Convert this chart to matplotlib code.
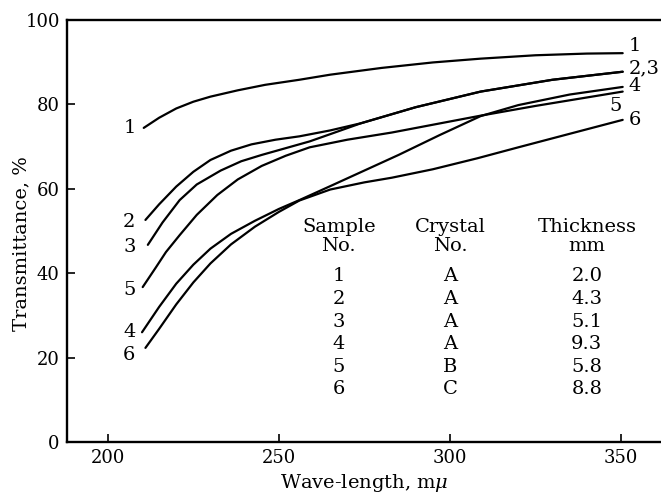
import matplotlib
matplotlib.use("Agg")
import matplotlib.pyplot as plt

# curves (wave-length in m-mu, transmittance in %)
x1 = [210.5, 215, 220, 225, 230, 238, 246, 256, 265, 280, 295, 309, 325, 340, 350.5]
y1 = [74.4, 76.8, 79.0, 80.6, 81.8, 83.3, 84.6, 85.8, 87.0, 88.6, 89.9, 90.8, 91.6, 92.0, 92.1]

x2 = [211, 215, 220, 225, 230, 236, 242, 249, 256, 265, 274, 290, 309, 330, 350.5]
y2 = [52.6, 56.3, 60.5, 64.0, 66.8, 69.0, 70.5, 71.6, 72.4, 73.8, 75.5, 79.3, 83.0, 85.8, 87.7]

x3 = [211.7, 216, 221, 226, 233, 239, 245, 252, 259, 266, 274, 290, 309, 330, 350.5]
y3 = [46.7, 52.0, 57.3, 61.0, 64.3, 66.5, 68.0, 69.6, 71.2, 73.2, 75.5, 79.3, 83.0, 85.8, 87.7]

x4 = [210, 215, 220, 225, 230, 236, 243, 250, 256, 265, 275, 285, 297, 309, 320, 335, 350.5]
y4 = [26.0, 32.0, 37.5, 42.0, 45.8, 49.3, 52.4, 55.2, 57.3, 60.6, 64.3, 68.0, 72.7, 77.2, 79.8, 82.3, 84.1]

x5 = [210.2, 214, 217, 221, 226, 232, 238, 245, 252, 259, 270, 283, 296, 309, 325, 340, 350.5]
y5 = [36.7, 41.3, 45.0, 49.0, 53.8, 58.5, 62.2, 65.4, 67.8, 69.8, 71.6, 73.3, 75.3, 77.3, 79.6, 81.6, 83.0]

x6 = [211, 215, 220, 225, 230, 236, 243, 250, 256, 265, 275, 283, 295, 308, 320, 335, 350.5]
y6 = [22.3, 26.8, 32.6, 37.8, 42.3, 46.8, 51.0, 54.5, 57.2, 59.8, 61.5, 62.6, 64.6, 67.2, 69.8, 73.0, 76.3]

# curve number labels
left_labels = ["1", "2", "3", "5", "4", "6"]
left_y = [74.4, 52.1, 46.2, 36.0, 26.1, 20.6]
right_labels = ["1", "2,3", "4", "5", "6"]
right_x = [352.3, 352.3, 352.3, 346.5, 352.3]
right_y = [93.7, 88.5, 84.4, 79.5, 76.3]

# table
headers = [("Sample", "No."), ("Crystal", "No."), ("Thickness", "mm")]
sample_no = ["1", "2", "3", "4", "5", "6"]
crystal_no = ["A", "A", "A", "A", "B", "C"]
thickness = ["2.0", "4.3", "5.1", "9.3", "5.8", "8.8"]
row_y = [39.3, 33.9, 28.5, 23.1, 17.8, 12.6]

plt.rcParams['font.family'] = ['DejaVu Serif']
plt.rcParams['mathtext.fontset'] = 'dejavuserif'

fig = plt.figure(figsize=(6.61, 4.95), dpi=100)
ax = fig.add_axes([0.101, 0.107, 0.899, 0.853])

for xs, ys in [(x1, y1), (x2, y2), (x3, y3), (x4, y4), (x5, y5), (x6, y6)]:
    ax.plot(xs, ys, color="black", lw=1.6, solid_capstyle="round")

fs = 14
for lab, yy in zip(left_labels, left_y):
    ax.text(206.3, yy, lab, fontsize=fs, ha="center", va="center")
for lab, xx, yy in zip(right_labels, right_x, right_y):
    ax.text(xx, yy, lab, fontsize=fs, ha="left", va="center")

col_x = [267.5, 300, 340]
for cx, (h1, h2) in zip(col_x, headers):
    ax.text(cx, 50.9, h1, fontsize=fs, ha="center", va="center")
    ax.text(cx, 46.4, h2, fontsize=fs, ha="center", va="center")
for s, c, t, yy in zip(sample_no, crystal_no, thickness, row_y):
    ax.text(col_x[0], yy, s, fontsize=fs, ha="center", va="center")
    ax.text(col_x[1], yy, c, fontsize=fs, ha="center", va="center")
    ax.text(col_x[2], yy, t, fontsize=fs, ha="center", va="center")

ax.set_xlim(188, 361.7)
ax.set_ylim(0, 100)
ax.set_xticks([200, 250, 300, 350])
ax.set_yticks([0, 20, 40, 60, 80, 100])
ax.tick_params(direction="in", length=6, width=1.2, labelsize=13, pad=5)
ax.spines["right"].set_visible(False)
for s in ["left", "bottom", "top"]:
    ax.spines[s].set_linewidth(1.7)

ax.set_xlabel("Wave-length, m$\\mu$", fontsize=fs)
ax.xaxis.set_label_coords(0.5, -0.07)
ax.set_ylabel("Transmittance, %", fontsize=fs)
ax.yaxis.set_label_coords(-0.062, 0.47)

fig.savefig("out.png", dpi=100)
